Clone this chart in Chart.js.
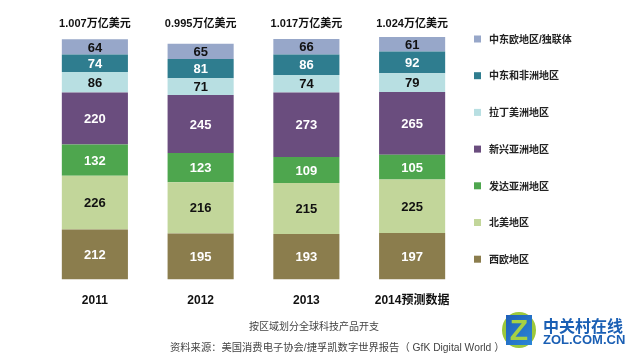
<!DOCTYPE html>
<html>
<head>
<meta charset="utf-8">
<script src="https://cdn.jsdelivr.net/npm/chart.js@4"></script>
<style>
  html, body { margin: 0; padding: 0; background: #fff; }
  #wrap { position: relative; width: 640px; height: 361px; overflow: hidden;
    font-family: Arial, "Liberation Sans", "Noto Sans CJK SC", sans-serif; }
  #chart { position: absolute; left: 0; top: 0; }
  .foot { position: absolute; font-size: 10px; color: #444; white-space: nowrap; }
  #logo { position: absolute; left: 502px; top: 312px; width: 34px; height: 36px; }
  #logo .ring { position: absolute; left: 0; top: 0; width: 34px; height: 36px; border-radius: 50%;
    background: #9cc83c; }
  #logo .sq { position: absolute; left: 4px; top: 3px; width: 26px; height: 30px;
    background: linear-gradient(135deg, #1f5fb8, #2b86d6); }
  #logo .z { position: absolute; left: 4px; top: 1px; width: 26px; text-align: center;
    font: bold 30px Arial, "Liberation Sans", sans-serif; color: #a6d143; line-height: 34px; }
  .brand1 { position: absolute; left: 543px; top: 313px; font-size: 16px; font-weight: bold;
    color: #1a5fb4; }
  .brand2 { position: absolute; left: 543px; top: 332px; font-size: 13px; font-weight: bold;
    color: #1a5fb4; font-family: Arial, "Liberation Sans", sans-serif; }
</style>
</head>
<body>
<div id="wrap">
  <canvas id="chart" width="640" height="361"></canvas>
  <div class="foot" style="left:249px; top:318px;">按区域划分全球科技产品开支</div>
  <div class="foot" style="left:170px; top:339px; font-size:10.3px;">资料来源：美国消费电子协会/捷孚凯数字世界报告（ GfK Digital World ）</div>
  <div id="logo"><div class="ring"></div><div class="sq"></div><div class="z">Z</div></div>
  <div class="brand1">中关村在线</div>
  <div class="brand2">ZOL.COM.CN</div>
</div>
<script>
/* data (unit: 十亿美元) */
const years = ['2011', '2012', '2013', '2014预测数据'];
const totals = ['1.007万亿美元', '0.995万亿美元', '1.017万亿美元', '1.024万亿美元'];

// stacked from bottom to top
const westEurope = [212, 195, 193, 197];
const northAmerica = [226, 216, 215, 225];
const devAsia = [132, 123, 109, 105];
const emergAsia = [220, 245, 273, 265];
const latinAmerica = [86, 71, 74, 79];
const meAfrica = [74, 81, 86, 92];
const ceeCis = [64, 65, 66, 61];

const FONT = 'Arial, "Liberation Sans", "Noto Sans CJK SC", sans-serif';

const series = [
  { label: '西欧地区', data: westEurope, color: '#8b7d4d', text: '#fff' },
  { label: '北美地区', data: northAmerica, color: '#c2d69a', text: '#111' },
  { label: '发达亚洲地区', data: devAsia, color: '#4ea64e', text: '#fff' },
  { label: '新兴亚洲地区', data: emergAsia, color: '#6a4d7e', text: '#fff' },
  { label: '拉丁美洲地区', data: latinAmerica, color: '#b8dfe2', text: '#111' },
  { label: '中东和非洲地区', data: meAfrica, color: '#2f7d8f', text: '#fff' },
  { label: '中东欧地区/独联体', data: ceeCis, color: '#97a7c9', text: '#111' }
];

/* labels inside segments, totals on top, legend at right */
const extras = {
  id: 'extras',
  afterDatasetsDraw(chart) {
    const ctx = chart.ctx;
    ctx.save();
    ctx.textAlign = 'center';
    ctx.textBaseline = 'middle';
    ctx.font = 'bold 13px ' + FONT;
    series.forEach((s, di) => {
      const meta = chart.getDatasetMeta(di);
      meta.data.forEach((bar, i) => {
        const p = bar.getCenterPoint();
        ctx.fillStyle = s.text;
        ctx.fillText(String(s.data[i]), p.x, p.y + 1);
      });
    });

    // totals above bars
    const top = chart.getDatasetMeta(series.length - 1);
    ctx.fillStyle = '#111';
    ctx.font = 'bold 11px ' + FONT;
    top.data.forEach((bar, i) => {
      ctx.fillText(totals[i], bar.x, 24);
    });

    // legend, top segment first
    ctx.textAlign = 'left';
    ctx.font = 'bold 10px ' + FONT;
    const rev = series.slice().reverse();
    rev.forEach((s, k) => {
      const y = 39 + k * 36.7;
      ctx.fillStyle = s.color;
      ctx.fillRect(474, y - 3.5, 7, 7);
      ctx.fillStyle = '#222';
      ctx.fillText(s.label, 489, y + 1);
    });
    ctx.restore();
  }
};

const ctx = document.getElementById('chart').getContext('2d');
const chart = new Chart(ctx, {
  type: 'bar',
  data: {
    labels: years,
    datasets: series.map(s => ({
      label: s.label,
      data: s.data,
      backgroundColor: s.color,
      borderWidth: 0,
      barPercentage: 0.625,
      categoryPercentage: 1
    }))
  },
  options: {
    responsive: false,
    animation: false,
    layout: { padding: { left: 42, right: 175, top: 19, bottom: 47 } },
    plugins: { legend: { display: false }, tooltip: { enabled: false } },
    scales: {
      x: {
        stacked: true,
        grid: { display: false },
        border: { display: false },
        ticks: { color: '#111', font: { family: FONT, size: 12, weight: 'bold' }, padding: 6 }
      },
      y: { stacked: true, display: false, min: 0, max: 1100 }
    }
  },
  plugins: [extras]
});
</script>
</body>
</html>
